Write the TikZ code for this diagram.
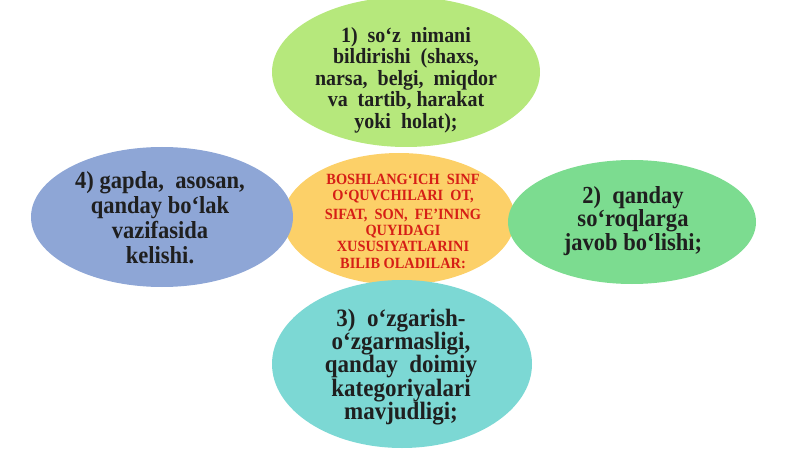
\documentclass[tikz,border=0pt]{standalone}
\usepackage{fontspec}
\setmainfont{Liberation Serif}
\newfontfamily\tallserif[FakeStretch=0.92]{Liberation Serif}
\usepackage{tikz}
\usetikzlibrary{shapes}
\definecolor{limefill}{RGB}{182,232,124}
\definecolor{corefill}{RGB}{252,208,104}
\definecolor{bluefill}{RGB}{142,166,214}
\definecolor{mintfill}{RGB}{124,220,144}
\definecolor{cyanfill}{RGB}{124,216,212}
\definecolor{corered}{RGB}{214,30,22}
\tikzset{blob node/.style={ellipse, inner sep=0pt, draw=none}}
\tikzset{point text/.style 2 args={align=center, text=black!88, font=\tallserif\bfseries\fontsize{#1}{#2}\selectfont}}
\tikzset{core text/.style={align=center, text=corered, font=\tallserif\bfseries\fontsize{15.6}{16.2}\selectfont}}

\begin{document}
\begin{tikzpicture}
          [x=1pt, y=-1pt]
          \useasboundingbox (0,0) rectangle (800,449);
          \node [blob node, fill=corefill, minimum width=232, minimum height=132] (mid)  at (399,219) {};
          \node [blob node, fill=limefill, minimum width=268, minimum height=150] (blob1) at (406, 72) {};
          \node [blob node, fill=bluefill, minimum width=262, minimum height=140] (blob4) at (162,217) {};
          \node [blob node, fill=mintfill, minimum width=248, minimum height=124] (blob2) at (632,222) {};
          \node [blob node, fill=cyanfill, minimum width=260, minimum height=168] (blob3) at (402,364) {};

          \node [core text]                (midtxt) at (403,221) {BOSHLANG‘ICH\ \ SINF\\O‘QUVCHILARI\ \ OT,\\[3pt]SIFAT,\ \ SON,\ \ FE’INING\\QUYIDAGI\\XUSUSIYATLARINI\\BILIB OLADILAR:};
          \node [point text={21.7}{21.5}]  (txt1)   at (406, 80) {1)\ \ so‘z\ \ nimani\\bildirishi\ \ (shaxs,\\narsa,\ \ belgi,\ \ miqdor\\va\ \ tartib, harakat\\yoki\ \ holat);};
          \node [point text={24.5}{25}]    (txt4)   at (160,218) {4) gapda,\ \ asosan,\\qanday bo‘lak\\vazifasida\\kelishi.};
          \node [point text={24.5}{22}]    (txt2)   at (633,221) {2)\ \ qanday\\so‘roqlarga\\javob bo‘lishi;};
          \node [point text={25}{23.2}]    (txt3)   at (401,367) {3)\ \ o‘zgarish-\\o‘zgarmasligi,\\qanday\ \ doimiy\\kategoriyalari\\mavjudligi;};
        \end{tikzpicture}
\end{document}
